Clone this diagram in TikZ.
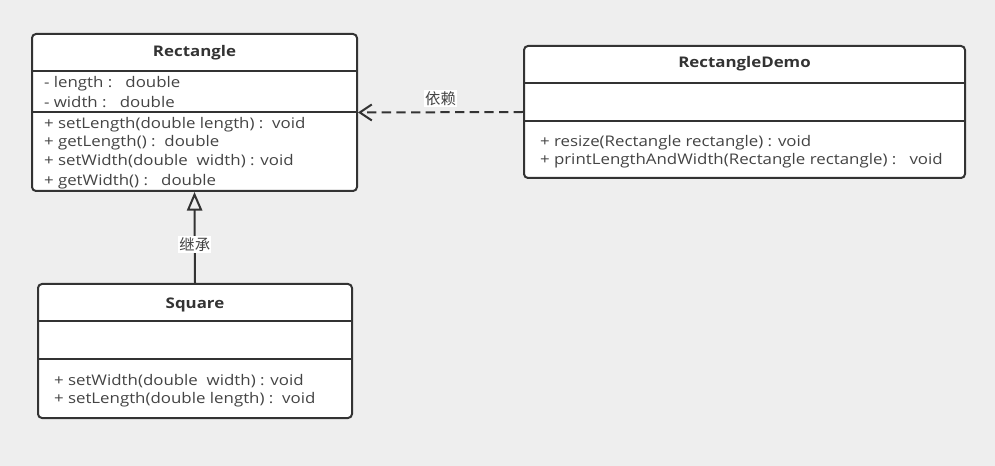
\documentclass[tikz,border=0pt]{standalone}
\usepackage{fontspec}
\setmainfont{Open Sans}[FakeStretch=1.15]
\newfontfamily\cjkfont{Noto Sans CJK SC}
\usetikzlibrary{arrows.meta}

\definecolor{bggray}{RGB}{238,238,238}
\definecolor{linegray}{RGB}{51,51,51}
\definecolor{textgray}{RGB}{68,68,68}

\tikzset{every picture/.style={line width=1.5pt}}
\tikzset{
  classbox/.style={draw=linegray, fill=white, rounded corners=3pt, inner sep=0pt},
  classname/.style={inner sep=0.75pt, text=linegray, font=\fontsize{11}{12}\selectfont\bfseries},
  member/.style={anchor=west, inner sep=0.75pt, text=textgray, font=\fontsize{11}{12}\selectfont},
  edgelabel/.style={fill=white, inner sep=1pt, text=textgray, font=\cjkfont\fontsize{11.5}{12}\selectfont},
  divider/.style={draw=linegray}
}

\begin{document}
\begin{tikzpicture}[x=0.75pt,y=0.75pt,yscale=-1,xscale=1]
\fill[bggray] (0,0) rectangle (995,466);
\useasboundingbox (0,0) rectangle (995,466);

%Shape: Class Rectangle
\node[classbox, minimum width=325*0.75pt, minimum height=157*0.75pt] (rect) at (194.5,112.5) {};
\draw[divider] (rect.west |- 0,71) -- (rect.east |- 0,71);
\draw[divider] (rect.west |- 0,112) -- (rect.east |- 0,112);
%Shape: Class RectangleDemo
\node[classbox, minimum width=441*0.75pt, minimum height=132*0.75pt] (demo) at (744.5,112) {};
\draw[divider] (demo.west |- 0,83) -- (demo.east |- 0,83);
\draw[divider] (demo.west |- 0,121) -- (demo.east |- 0,121);
%Shape: Class Square
\node[classbox, minimum width=314*0.75pt, minimum height=134*0.75pt] (sq) at (195,351) {};
\draw[divider] (sq.west |- 0,321) -- (sq.east |- 0,321);
\draw[divider] (sq.west |- 0,359) -- (sq.east |- 0,359);

% Text Node
\node[classname] (rectname) at (194.5,53) {Rectangle};
\node[member] (rlen) at (42,84) {- length :~~~double};
\node[member] (rwid) at (42,102) {- width :~~~double};
\node[member] (rsetlen) at (42,125) {+ setLength(double length) :~~void};
\node[member] (rgetlen) at (42,143) {+ getLength() :~~double};
\node[member] (rsetwid) at (42,161) {+ setWidth(double~~width) : void};
\node[member] (rgetwid) at (42,182) {+ getWidth() :~~~double};
% Text Node
\node[classname] (demoname) at (744.5,64) {RectangleDemo};
\node[member] (dresize) at (538,143) {+ resize(Rectangle rectangle) : void};
\node[member] (dprint) at (538,161) {+ printLengthAndWidth(Rectangle rectangle) :~~~void};
% Text Node
\node[classname] (sqname) at (195,305) {Square};
\node[member] (ssetwid) at (52,381) {+ setWidth(double~~width) : void};
\node[member] (ssetlen) at (52,400) {+ setLength(double length) :~~void};

%Connectors
\draw[linegray, dash pattern={on 7pt off 4pt}, -{Straight Barb[length=9pt,width=12pt]}] (demo.west) -- node[edgelabel, above=3pt] (deplabel) {依赖} (rect.east);
\draw[linegray, -{Triangle[open,length=14pt,width=11.5pt]}] (sq.north) -- node[edgelabel, pos=0.42] (inhlabel) {继承} (rect.south);

\end{tikzpicture}
\end{document}
